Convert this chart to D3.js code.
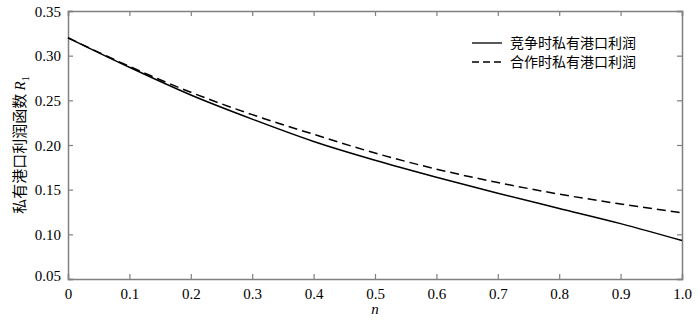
<!DOCTYPE html>
<html>
<script src="https://d3js.org/d3.v7.min.js"></script>
<style>
    body { margin: 0; background: #fff; }
</style>
<body></body>
<script>
    const nValues = [0, 0.1, 0.2, 0.3, 0.4, 0.5, 0.6, 0.7, 0.8, 0.9, 1.0];
    const competeProfit = [0.32, 0.287, 0.256, 0.229, 0.204, 0.183, 0.164, 0.146, 0.129, 0.112, 0.093];
    const coopProfit = [0.32, 0.288, 0.259, 0.234, 0.212, 0.191, 0.173, 0.158, 0.145, 0.134, 0.124];
    const yTicks = [0.05, 0.10, 0.15, 0.20, 0.25, 0.30, 0.35];
    const legendLabels = ["竞争时私有港口利润", "合作时私有港口利润"];

    const width = 700, height = 324;
    const margin = {left: 68, right: 18, top: 11, bottom: 45};
    const svg = d3.select("body").append("svg").attr("width", width).attr("height", height);

    const x = d3.scaleLinear().domain([0, 1]).range([margin.left, width - margin.right]);
    const y = d3.scaleLinear().domain([0.05, 0.35]).range([height - margin.bottom, margin.top]);

    const axisColor = "#808080";
    const tickLen = 5;
    const serif = "'Liberation Serif', 'DejaVu Serif', serif";

    // ticks inside the box on all four sides
    const axBottom = svg.append("g")
        .attr("transform", `translate(0,${y(0.05)})`)
        .call(d3.axisBottom(x).tickValues(nValues).tickSize(-tickLen).tickPadding(9)
            .tickFormat(d => d === 0 ? "0" : d3.format(".1f")(d)));
    const axTop = svg.append("g")
        .attr("transform", `translate(0,${y(0.35)})`)
        .call(d3.axisTop(x).tickValues(nValues).tickSize(-tickLen).tickFormat(""));
    const axLeft = svg.append("g")
        .attr("transform", `translate(${x(0)},0)`)
        .call(d3.axisLeft(y).tickValues(yTicks).tickSize(-tickLen).tickPadding(7).tickFormat(d3.format(".2f")));
    const axRight = svg.append("g")
        .attr("transform", `translate(${x(1)},0)`)
        .call(d3.axisRight(y).tickValues(yTicks).tickSize(-tickLen).tickFormat(""));

    [axBottom, axTop, axLeft, axRight].forEach(g => {
        g.attr("font-family", serif).attr("font-size", 15);
        g.select(".domain").attr("stroke", axisColor).attr("stroke-width", 1.5);
        g.selectAll(".tick line").attr("stroke", axisColor).attr("stroke-width", 1.2);
        g.selectAll(".tick text").attr("fill", "#000").style("font-family", serif).style("font-size", "15px");
    });
    axLeft.selectAll(".tick text").attr("dy", "0.35em");
    // the lowest y label sits a bit higher in the reference
    axLeft.selectAll(".tick text").filter(d => d === 0.05).attr("dy", "0.1em");
    axBottom.selectAll(".tick text").attr("dy", "0.75em");

    const line = d3.line().x((d, i) => x(nValues[i])).y(d => y(d)).curve(d3.curveMonotoneX);

    svg.append("path").datum(competeProfit)
        .attr("fill", "none").attr("stroke", "#000").attr("stroke-width", 1.5)
        .attr("d", line);
    svg.append("path").datum(coopProfit)
        .attr("fill", "none").attr("stroke", "#000").attr("stroke-width", 1.5)
        .attr("stroke-dasharray", "9,5")
        .attr("d", line);

    // legend
    const legend = svg.append("g").attr("transform", "translate(472,43)");
    legendLabels.forEach((lab, i) => {
        const g = legend.append("g").attr("transform", `translate(0,${i * 19})`);
        g.append("line").attr("x1", 0).attr("x2", 30).attr("y1", 0).attr("y2", 0)
            .attr("stroke", "#000").attr("stroke-width", 1.3)
            .attr("stroke-dasharray", i === 1 ? "7,4" : null);
        g.append("text").attr("x", 38).attr("y", 0).attr("dy", "0.35em")
            .attr("font-family", "Noto Sans CJK SC").attr("font-size", 14)
            .text(lab);
    });

    // axis titles
    svg.append("text")
        .attr("x", x(0.5)).attr("y", 314)
        .attr("text-anchor", "middle")
        .attr("font-family", serif).attr("font-style", "italic").attr("font-size", 15)
        .text("n");

    const yTitle = svg.append("text")
        .attr("transform", `translate(25,${(y(0.35) + y(0.05)) / 2}) rotate(-90)`)
        .attr("text-anchor", "middle")
        .attr("font-family", "Noto Sans CJK SC").attr("font-size", 15);
    yTitle.append("tspan").text("私有港口利润函数 ");
    yTitle.append("tspan").attr("font-family", serif).attr("font-style", "italic").text("R");
    yTitle.append("tspan").attr("font-family", serif).attr("font-size", 10).attr("dy", 4).text("1");
</script>
</html>
